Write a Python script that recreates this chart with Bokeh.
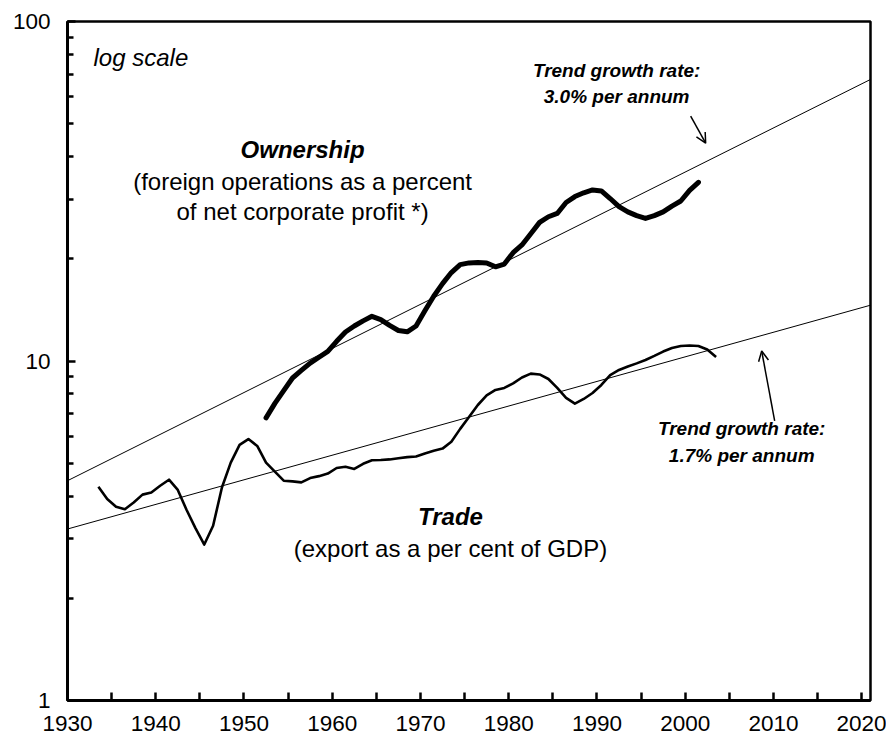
from bokeh.plotting import figure
from bokeh.models import FixedTicker, Arrow, OpenHead, Label, Range1d, PrintfTickFormatter
from bokeh.embed import file_html
from bokeh.resources import INLINE

# ---- data ----
trade_years = list(range(1933, 2004))
trade_values = [4.26, 3.92, 3.72, 3.66, 3.83, 4.04, 4.10, 4.29, 4.47, 4.17,
                3.64, 3.22, 2.88, 3.27, 4.24, 5.02, 5.66, 5.89, 5.62, 5.02,
                4.72, 4.44, 4.42, 4.39, 4.52, 4.58, 4.66, 4.84, 4.88, 4.81,
                4.98, 5.10, 5.11, 5.13, 5.17, 5.21, 5.23, 5.34, 5.44, 5.52,
                5.78, 6.31, 6.84, 7.42, 7.92, 8.22, 8.33, 8.59, 8.94, 9.18,
                9.13, 8.85, 8.33, 7.79, 7.49, 7.73, 8.05, 8.50, 9.09, 9.41,
                9.63, 9.84, 10.07, 10.35, 10.66, 10.92, 11.07, 11.11, 11.07, 10.81,
                10.27]
own_years = list(range(1952, 2002))
own_values = [6.80, 7.50, 8.18, 8.91, 9.38, 9.86, 10.26, 10.67, 11.43, 12.17,
              12.68, 13.13, 13.54, 13.24, 12.73, 12.30, 12.19, 12.68, 14.06, 15.52,
              16.90, 18.22, 19.23, 19.45, 19.50, 19.45, 18.94, 19.30, 20.85, 21.97,
              23.70, 25.60, 26.60, 27.20, 29.30, 30.50, 31.30, 31.90, 31.70, 30.10,
              28.50, 27.50, 26.80, 26.30, 26.80, 27.50, 28.60, 29.60, 31.80, 33.60]
trend_years = [1930, 2021]
trend_own = [4.44, 67.5]     # 3.0% per annum
trend_trade = [3.2, 14.6]    # 1.7% per annum
x_ticks = list(range(1930, 2021, 10))
x_minor = list(range(1935, 2020, 10))
y_ticks = [1, 10, 100]
y_minor = [2, 3, 4, 5, 6, 7, 8, 9, 20, 30, 40, 50, 60, 70, 80, 90]

FONT = "Liberation Sans"

p = figure(width=886, height=748, x_range=Range1d(1930, 2021), y_range=Range1d(1, 100),
           y_axis_type="log", output_backend="svg", toolbar_location=None,
           min_border_left=67, min_border_right=16, min_border_top=21, min_border_bottom=48)
p.background_fill_color = "white"
p.border_fill_color = "white"
p.outline_line_color = "black"
p.outline_line_width = 2.5
p.xgrid.visible = False
p.ygrid.visible = False

xa = p.xaxis[0]
xa.ticker = FixedTicker(ticks=x_ticks, minor_ticks=x_minor)
ya = p.yaxis[0]
ya.ticker = FixedTicker(ticks=y_ticks, minor_ticks=y_minor)
ya.formatter = PrintfTickFormatter(format="%d")
for ax in (xa, ya):
    ax.axis_line_width = 3
    ax.axis_line_color = "black"
    ax.major_tick_in = 8
    ax.major_tick_out = 0
    ax.minor_tick_out = 0
    ax.major_tick_line_width = 2.5
    ax.minor_tick_line_width = 2.5
    ax.major_tick_line_color = "black"
    ax.minor_tick_line_color = "black"
    ax.major_label_text_font = FONT
    ax.major_label_text_font_size = "22.5px"
    ax.major_label_text_color = "black"
xa.minor_tick_in = 8
ya.minor_tick_in = 6
xa.major_label_standoff = 15
ya.major_label_standoff = 17

# trend lines
p.line(trend_years, trend_own, line_color="black", line_width=1)
p.line(trend_years, trend_trade, line_color="black", line_width=1)
# series
p.line([y + 0.5 for y in trade_years], trade_values, line_color="black", line_width=2.6,
       line_join="round")
p.line([y + 0.5 for y in own_years], own_values, line_color="black", line_width=5,
       line_join="round", line_cap="round")

def lab(x, y, text, size, style="normal", align="center"):
    p.add_layout(Label(x=x, y=y, y_offset=7, text=text, text_font=FONT, text_font_size=size,
                       text_font_style=style, text_align=align, text_baseline="alphabetic",
                       text_color="black"))

lab(1932.95, 74.7, "log scale", "24px", "italic", "left")
lab(1956.64, 40.1, "Ownership", "24px", "bold italic")
lab(1956.64, 32.3, "(foreign operations as a percent", "24px")
lab(1956.64, 26.2, "of net corporate profit *)", "24px")
lab(1973.4, 3.32, "Trade", "24px", "bold italic")
lab(1973.4, 2.67, "(export as a per cent of GDP)", "24px")
lab(1992.23, 68.4, "Trend growth rate:", "19px", "bold italic")
lab(1992.23, 57.4, "3.0% per annum", "19px", "bold italic")
lab(2006.4, 6.02, "Trend growth rate:", "19px", "bold italic")
lab(2006.4, 5.01, "1.7% per annum", "19px", "bold italic")

p.add_layout(Arrow(end=OpenHead(size=10, line_width=1.5, line_color="black"),
                   x_start=2000.62, y_start=52.6, x_end=2002.32, y_end=43.8,
                   line_width=1.5, line_color="black"))
p.add_layout(Arrow(end=OpenHead(size=10, line_width=1.5, line_color="black"),
                   x_start=2010.14, y_start=6.66, x_end=2008.67, y_end=10.7,
                   line_width=1.5, line_color="black"))

open("out.html", "w").write(file_html(p, INLINE))
